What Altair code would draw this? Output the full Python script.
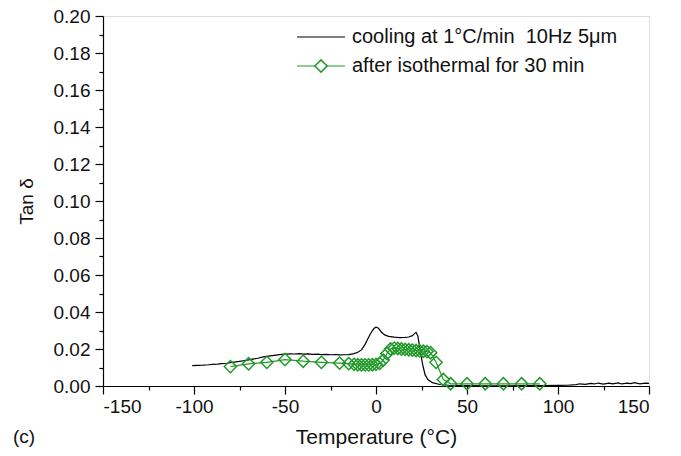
import altair as alt
import pandas as pd

# ---- data ----
cool_T = [-101, -98, -95, -92, -90, -87, -85, -82, -80, -77, -75, -72, -70, -67, -65,
          -62, -60, -57, -55, -52, -50, -47, -45, -42, -40, -37, -35, -32, -30, -27,
          -25, -22, -20, -17, -15, -12, -10, -8, -6, -4, -2, -1, 0, 1, 2, 3, 5, 7,
          10, 13, 16, 18, 20, 21, 22, 23, 24, 25, 26, 27, 28.5, 31, 35, 40, 50, 60,
          70, 80, 90, 100, 105, 110, 112, 115, 118, 120, 122, 125, 128, 130, 133,
          135, 138, 140, 142, 145, 148, 150]
cool_V = [0.0110, 0.0112, 0.0113, 0.0115, 0.0117, 0.0118, 0.0121, 0.0123, 0.0126, 0.0130,
          0.0133, 0.0138, 0.0141, 0.0147, 0.0150, 0.0157, 0.0160, 0.0164, 0.0167, 0.0171,
          0.0172, 0.0174, 0.0173, 0.0175, 0.0172, 0.0174, 0.0171, 0.0172, 0.0170, 0.0171,
          0.0169, 0.0170, 0.0168, 0.0169, 0.0170, 0.0175, 0.0182, 0.0195, 0.0225, 0.0265,
          0.0300, 0.0312, 0.0318, 0.0315, 0.0305, 0.0290, 0.0275, 0.0268, 0.0264, 0.0262,
          0.0263, 0.0265, 0.0272, 0.0282, 0.0290, 0.0270, 0.0210, 0.0150, 0.0100, 0.0060,
          0.0035, 0.0018, 0.0008, 0.0004, 0.0002, 0.0001, 0.0001, 0.0002, 0.0002, 0.0003,
          0.0004, 0.0007, 0.0012, 0.0009, 0.0014, 0.0011, 0.0016, 0.0010, 0.0015, 0.0012,
          0.0017, 0.0011, 0.0016, 0.0013, 0.0018, 0.0012, 0.0016, 0.0014]

iso_T = [-80, -70, -60, -50, -40, -30, -20, -15, -12, -10, -8, -6, -4, -2, 0, 2, 4, 6, 8,
         10, 12, 14, 16, 18, 20, 22, 24, 26, 28, 30, 33, 37, 41, 50, 60, 70, 80, 90]
iso_V = [0.0105, 0.0120, 0.0128, 0.0143, 0.0134, 0.0128, 0.0124, 0.0121, 0.0117, 0.0115,
         0.0114, 0.0114, 0.0114, 0.0115, 0.0117, 0.0122, 0.0140, 0.0175, 0.0200, 0.0205,
         0.0203, 0.0200, 0.0198, 0.0196, 0.0194, 0.0192, 0.0190, 0.0188, 0.0186, 0.0180,
         0.0128, 0.0035, 0.0012, 0.0012, 0.0012, 0.0012, 0.0012, 0.0012]

series_labels = ["cooling at 1\u00b0C/min\u00a0 10Hz 5\u03bcm", "after isothermal for 30 min"]
x_major = [-150, -100, -50, 0, 50, 100, 150]
x_minor = [-125, -75, -25, 25, 75, 125]
y_major = [0.00, 0.02, 0.04, 0.06, 0.08, 0.10, 0.12, 0.14, 0.16, 0.18, 0.20]
y_minor = [0.01, 0.03, 0.05, 0.07, 0.09, 0.11, 0.13, 0.15, 0.17, 0.19]

GREEN = "#22992a"
FONT = "Liberation Sans"

cool = pd.DataFrame({"T": cool_T, "v": cool_V})
iso = pd.DataFrame({"T": iso_T, "v": iso_V})

xs = alt.Scale(domain=[-150, 150], nice=False, zero=False)
ys = alt.Scale(domain=[0, 0.2], nice=False)

ax_common = dict(grid=False, domainColor="black", domainWidth=1.2, tickColor="black",
                 tickWidth=1.2, labelFont=FONT, labelColor="#111", titleFont=FONT,
                 titleColor="#111", titleFontWeight="normal")

x_axis_major = alt.Axis(values=x_major, tickSize=8, labelFontSize=19, labelPadding=3,
                        labelExpr="datum.value + ''",
                        title="Temperature (\u00b0C)", titleFontSize=21, titlePadding=10,
                        orient="bottom", **ax_common)
y_axis_major = alt.Axis(values=y_major, format=".2f", tickSize=8, labelFontSize=19,
                        labelPadding=5, title="Tan \u03b4", titleFontSize=19,
                        titlePadding=17, orient="left", **ax_common)
x_axis_minor = alt.Axis(values=x_minor, tickSize=4, labels=False, domain=False,
                        title=None, orient="bottom", grid=False, tickColor="black",
                        tickWidth=1.2)
y_axis_minor = alt.Axis(values=y_minor, tickSize=4, labels=False, domain=False,
                        title=None, orient="left", grid=False, tickColor="black",
                        tickWidth=1.2)

black_line = alt.Chart(cool).mark_line(color="black", strokeWidth=1.2).encode(
    x=alt.X("T:Q", scale=xs, axis=x_axis_major),
    y=alt.Y("v:Q", scale=ys, axis=y_axis_major),
)

green_line = alt.Chart(iso).mark_line(color=GREEN, strokeWidth=1.2).encode(
    x=alt.X("T:Q", scale=xs, axis=None),
    y=alt.Y("v:Q", scale=ys, axis=None),
)
green_pts = alt.Chart(iso).mark_point(shape="diamond", size=150, filled=False,
                                      color=GREEN, strokeWidth=1.5, opacity=1).encode(
    x=alt.X("T:Q", scale=xs, axis=None),
    y=alt.Y("v:Q", scale=ys, axis=None),
)

minor = alt.Chart(iso).mark_point(opacity=0).encode(
    x=alt.X("T:Q", scale=xs, axis=x_axis_minor),
    y=alt.Y("v:Q", scale=ys, axis=y_axis_minor),
)

# ---- legend (inside top right) ----
leg_df = pd.DataFrame({"label": series_labels})
leg1_rule = alt.Chart(leg_df.iloc[[0]]).mark_rule(color="black", strokeWidth=1.2).encode(
    x=alt.value(194), x2=alt.value(242), y=alt.value(21))
leg2_rule = alt.Chart(leg_df.iloc[[1]]).mark_rule(color=GREEN, strokeWidth=1.2).encode(
    x=alt.value(194), x2=alt.value(242), y=alt.value(50))
leg2_pt = alt.Chart(leg_df.iloc[[1]]).mark_point(shape="diamond", size=150, filled=True,
                                                 fill="white", stroke=GREEN,
                                                 strokeWidth=1.5, opacity=1).encode(
    x=alt.value(218), y=alt.value(50))
leg1_txt = alt.Chart(leg_df.iloc[[0]]).mark_text(align="left", baseline="middle",
                                                 font=FONT, fontSize=20, color="#111").encode(
    x=alt.value(249), y=alt.value(21), text="label:N")
leg2_txt = alt.Chart(leg_df.iloc[[1]]).mark_text(align="left", baseline="middle",
                                                 font=FONT, fontSize=20, color="#111").encode(
    x=alt.value(249), y=alt.value(50), text="label:N")

panel_df = pd.DataFrame({"lab": ["(c)"]})
panel_txt = alt.Chart(panel_df).mark_text(align="center", baseline="middle", font=FONT,
                                          fontSize=19, color="#111").encode(
    x=alt.value(-79), y=alt.value(421), text="lab:N")

chart = alt.layer(
    black_line, green_line, green_pts, minor,
    leg1_rule, leg2_rule, leg2_pt, leg1_txt, leg2_txt, panel_txt,
).resolve_axis(x="independent", y="independent").properties(
    width=546, height=370,
    autosize=alt.AutoSizeParams(type="none"),
    padding={"left": 95, "top": 8, "right": 24, "bottom": 62},
).configure_view(stroke="black", strokeWidth=1.5).configure(background="white")

chart.save("out.html", embed_options={"renderer": "svg", "actions": False})
